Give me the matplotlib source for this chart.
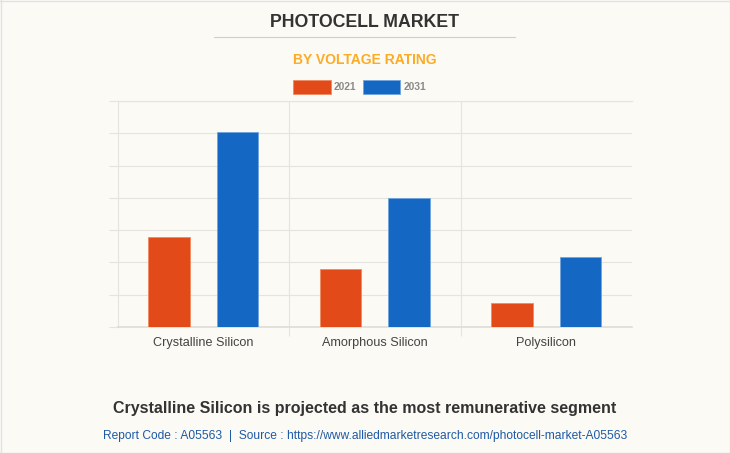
import matplotlib
matplotlib.use('Agg')
import matplotlib.pyplot as plt
import matplotlib.patches as mpatches
import numpy as np

categories = ['Crystalline Silicon', 'Amorphous Silicon', 'Polysilicon']
values_2021 = [2.8, 1.8, 0.73]
values_2031 = [6.04, 4.0, 2.17]
y_ticks = [0, 1, 2, 3, 4, 5, 6, 7]

BG = '#FBFAF5'
GRID = '#E4E4E0'
W, H = 730, 453

plt.rcParams['font.family'] = ['Liberation Sans', 'DejaVu Sans']

fig = plt.figure(figsize=(W / 100, H / 100), dpi=100, facecolor=BG)
# plot area in pixels: x 118-632, y 101-327
ax = fig.add_axes([118 / W, 1 - 327 / H, (632 - 118) / W, (327 - 101) / H], facecolor=BG)

x = np.arange(len(categories))
bar_w = 0.242
ax.bar(x - 0.201, values_2021, bar_w, color='#E24A1A', edgecolor='#F08A60', linewidth=0.6, zorder=3)
ax.bar(x + 0.198, values_2031, bar_w, color='#1468C4', edgecolor='#6FA5DE', linewidth=0.6, zorder=3)

ax.set_xlim(-0.5, 2.5)
ax.set_ylim(0, 7)
ax.set_yticks(y_ticks)
ax.set_yticklabels([])
ax.set_xticks([0.5, 1.5], minor=False)
ax.set_xticklabels([])
ax.set_xticks(x, minor=True)
ax.set_xticklabels(categories, minor=True, fontsize=9.1, color='#444444')
ax.tick_params(axis='x', which='minor', length=0, pad=7.5)
ax.tick_params(axis='x', which='major', length=6.5, color=GRID, width=0.8)
ax.tick_params(axis='y', length=6.5, color=GRID, width=0.8)
ax.grid(True, which='major', color=GRID, linewidth=0.8, zorder=0)
ax.set_axisbelow(True)
for name, sp in ax.spines.items():
    sp.set_color(GRID)
    sp.set_linewidth(0.8)
ax.spines['right'].set_visible(False)
ax.spines['bottom'].set_color('#DADAD6')
ax.spines['bottom'].set_linewidth(1.1)


def px_text(px, py, s, **kw):
    fig.text(px / W, 1 - py / H, s, ha=kw.pop('ha', 'center'), va='center', **kw)


px_text(365, 22.5, 'PHOTOCELL MARKET', fontsize=12.8, fontweight='bold', color='#333333')
fig.add_artist(plt.Line2D([214 / W, 515 / W], [1 - 37.2 / H] * 2, color='#CFCFCB', linewidth=0.8))
px_text(365, 60, 'BY VOLTAGE RATING', fontsize=10.0, fontweight='bold', color='#FBAB25')

# legend drawn by hand to sit at the exact place
legend_items = [('2021', '#E24A1A', '#F08A60', 293, 330.5), ('2031', '#1468C4', '#6FA5DE', 363, 400)]
for label, col, edge, left, right in legend_items:
    fig.add_artist(mpatches.Rectangle((left / W, 1 - 93.5 / H), (right - left) / W, 13 / H,
                                      transform=fig.transFigure, facecolor=col, edgecolor=edge, linewidth=0.6))
    px_text(right + 3.5, 87, label, ha='left', fontsize=7.4, fontweight='bold', color='#8A8A8A')

px_text(365, 408.5, 'Crystalline Silicon is projected as the most remunerative segment',
        fontsize=11.5, fontweight='bold', color='#333333')
px_text(365, 436, 'Report Code : A05563  |  Source : https://www.alliedmarketresearch.com/photocell-market-A05563',
        fontsize=8.62, color='#1F5AA6')

# thin grey page border on all four sides
fig.add_artist(plt.Line2D([0, 1], [1 - 0.5 / H] * 2, color='#E2E2E2', linewidth=1))
fig.add_artist(plt.Line2D([0, 1], [0.5 / H] * 2, color='#E2E2E2', linewidth=1))
fig.add_artist(plt.Line2D([0.5 / W] * 2, [0, 1], color='#E2E2E2', linewidth=1))
fig.add_artist(plt.Line2D([1 - 0.5 / W] * 2, [0, 1], color='#E2E2E2', linewidth=1))

fig.savefig('out.png', dpi=100, facecolor=BG)
plt.close(fig)
